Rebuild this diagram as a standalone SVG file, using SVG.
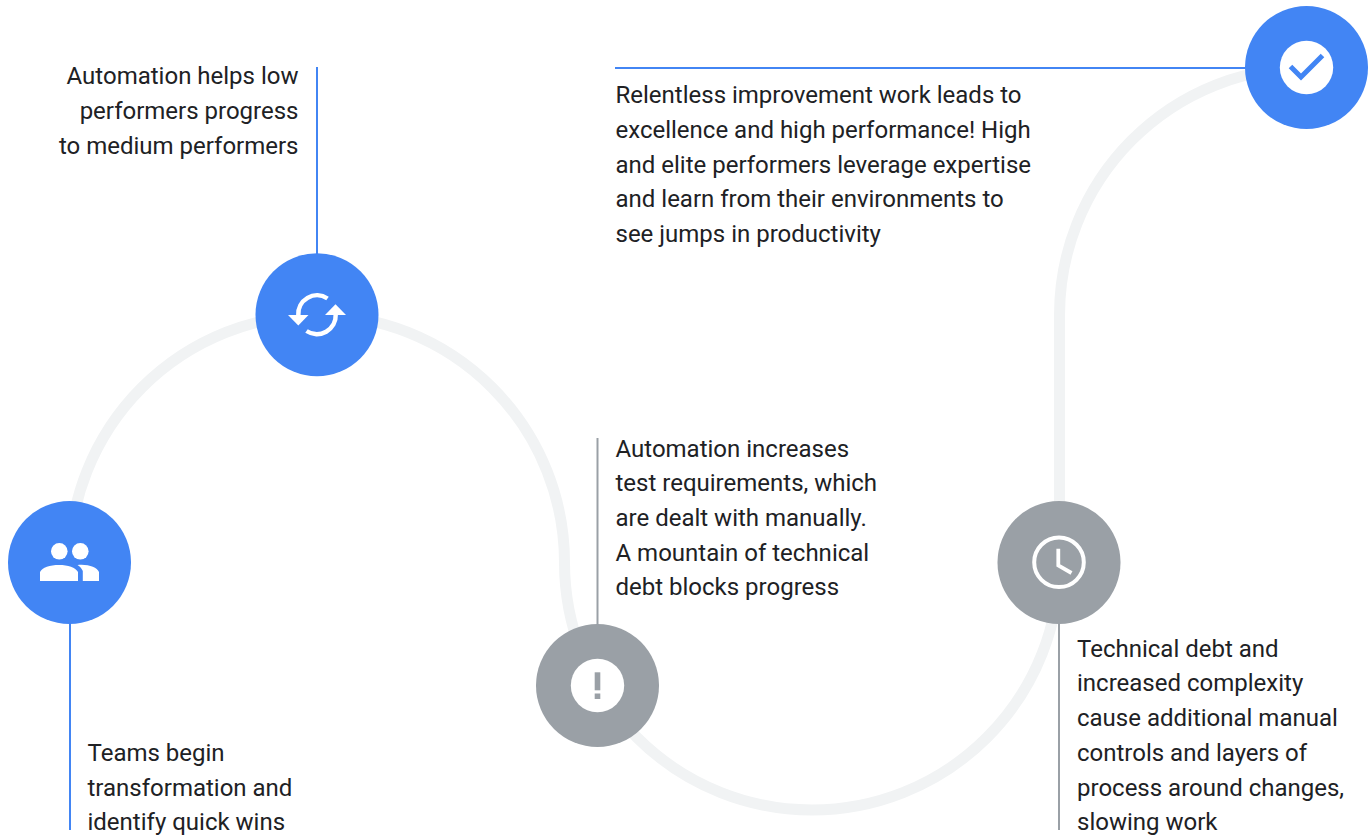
<svg xmlns="http://www.w3.org/2000/svg" width="1372" height="836" viewBox="0 0 1372 836">
<style>
.track{fill:none;stroke:#f1f3f4;stroke-width:11}
.lb{stroke:#4285f4;stroke-width:2;fill:none}
.lg{stroke:#9aa0a6;stroke-width:2;fill:none}
.b{fill:#4285f4}
.g{fill:#9aa0a6}
.w{fill:#fff}
text{font-family:Roboto,"Liberation Sans",sans-serif;font-size:24px;fill:#202124}
.r{text-anchor:end}
</style>
<g id="connectors">
<path class="track" d="M69.500 562.500A247.500 247.500 0 0 1 564.500 562.500A247.500 247.500 0 0 0 1059.500 562.500V315A247.500 247.500 0 0 1 1306.500 67.500"/>
<path class="lb" d="M317 67V260"/>
<path class="lb" d="M615 68H1250"/>
<path class="lb" d="M70 620V830"/>
<path class="lg" d="M597.500 438V630"/>
<path class="lg" d="M1059 620V830"/>
</g>
<g id="node-people">
<circle class="b" cx="69.500" cy="562.500" r="61.500"/>
<circle class="w" cx="59.300" cy="551.300" r="8.300"/>
<circle class="w" cx="80.300" cy="551.300" r="8.300"/>
<path class="w" d="M40 581V572C42 567.500 50 565 59 565C68 565 75.500 567.500 78 572V581Z"/>
<path class="w" d="M82.800 581V571C82 569 80 566.500 77.500 565C88 564 97 567 99 572V581Z"/>
</g>
<g id="node-sync">
<circle class="b" cx="317" cy="314.700" r="61.500"/>
<path d="M327.500 298.500A18.800 18.800 0 0 0 298.300 315.500" fill="none" stroke="#fff" stroke-width="4.500"/>
<path class="w" d="M288 315H308.500L298.300 325.500Z"/>
<path d="M306.500 331A18.800 18.800 0 0 0 335.700 314.500" fill="none" stroke="#fff" stroke-width="4.500"/>
<path class="w" d="M325 315H346L335.500 304.300Z"/>
</g>
<g id="node-alert">
<circle class="g" cx="597.500" cy="685.500" r="61.500"/>
<circle class="w" cx="597.500" cy="685.500" r="26.700"/>
<rect class="g" x="594.700" y="672.300" width="5.600" height="18"/>
<rect class="g" x="594.700" y="693.500" width="5.600" height="5.500"/>
</g>
<g id="node-clock">
<circle class="g" cx="1059" cy="562.500" r="61.500"/>
<circle cx="1059" cy="562.300" r="24.800" fill="none" stroke="#fff" stroke-width="4"/>
<path d="M1058.300 548.700V565.300L1071.500 573" fill="none" stroke="#fff" stroke-width="3.800"/>
</g>
<g id="node-check">
<circle class="b" cx="1306.500" cy="67.500" r="61.500"/>
<circle class="w" cx="1306.500" cy="67.500" r="26.700"/>
<path d="M1290.500 66.500L1301 77L1322.500 55.500" fill="none" stroke="#4285f4" stroke-width="5"/>
</g>
<g id="text-automation-low">
<text class="r" x="298.500" y="84">Automation helps low</text>
<text class="r" x="298.500" y="119">performers progress</text>
<text class="r" x="298.500" y="154">to medium performers</text>
</g>
<g id="text-relentless">
<text x="615.500" y="103">Relentless improvement work leads to</text>
<text x="615.500" y="138">excellence and high performance! High</text>
<text x="615.500" y="173">and elite performers leverage expertise</text>
<text x="615.500" y="207">and learn from their environments to</text>
<text x="615.500" y="242">see jumps in productivity</text>
</g>
<g id="text-mountain">
<text x="615.500" y="457">Automation increases</text>
<text x="615.500" y="491">test requirements, which</text>
<text x="615.500" y="526">are dealt with manually.</text>
<text x="615.500" y="561">A mountain of technical</text>
<text x="615.500" y="595">debt blocks progress</text>
</g>
<g id="text-teams">
<text x="87.500" y="761">Teams begin</text>
<text x="87.500" y="796">transformation and</text>
<text x="87.500" y="830">identify quick wins</text>
</g>
<g id="text-debt">
<text x="1077" y="657">Technical debt and</text>
<text x="1077" y="691">increased complexity</text>
<text x="1077" y="726">cause additional manual</text>
<text x="1077" y="761">controls and layers of</text>
<text x="1077" y="796">process around changes,</text>
<text x="1077" y="830">slowing work</text>
</g>
</svg>
